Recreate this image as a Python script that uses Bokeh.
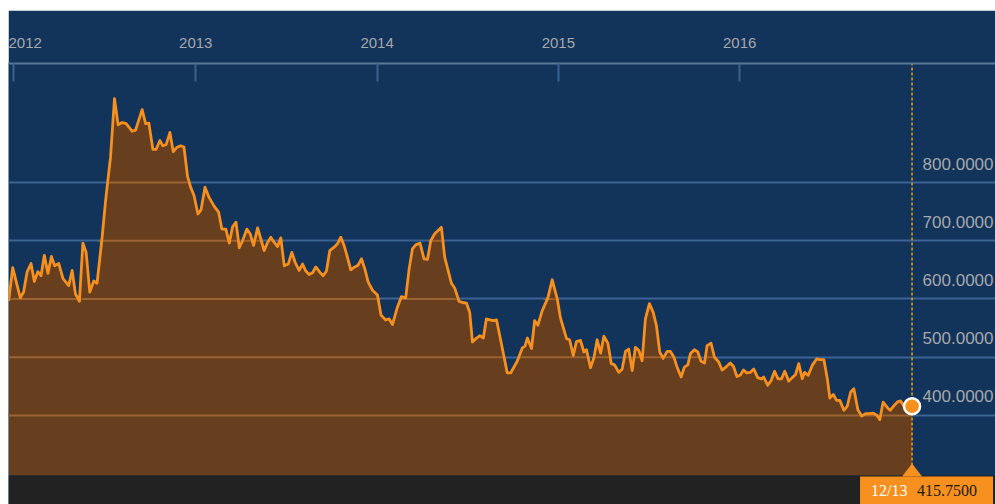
import numpy as np
import pandas as pd
from bokeh.plotting import figure
from bokeh.models import Range1d, FixedTicker, DatetimeTickFormatter, Spacer, Grid
from bokeh.layouts import column, row
from bokeh.embed import file_html
from bokeh.resources import INLINE
from bokeh.core.properties import value

# ---- data (decimal year, price) ----
t_years = [
    2011.971, 2011.993, 2012.035, 2012.053, 2012.072, 2012.094, 2012.112, 2012.131, 2012.149, 2012.167,
    2012.187, 2012.206, 2012.224, 2012.246, 2012.270, 2012.301, 2012.320, 2012.338, 2012.360, 2012.379,
    2012.397, 2012.417, 2012.439, 2012.457, 2012.485, 2012.504, 2012.531, 2012.553, 2012.573, 2012.595,
    2012.617, 2012.650, 2012.669, 2012.705, 2012.724, 2012.742, 2012.764, 2012.782, 2012.803, 2012.819,
    2012.837, 2012.858, 2012.876, 2012.895, 2012.917, 2012.935, 2012.955, 2012.972, 2012.990, 2013.012,
    2013.029, 2013.051, 2013.074, 2013.102, 2013.126, 2013.144, 2013.166, 2013.185, 2013.203, 2013.222,
    2013.240, 2013.258, 2013.282, 2013.300, 2013.319, 2013.341, 2013.359, 2013.377, 2013.396, 2013.414,
    2013.433, 2013.451, 2013.469, 2013.488, 2013.510, 2013.530, 2013.548, 2013.570, 2013.589, 2013.607,
    2013.625, 2013.644, 2013.662, 2013.684, 2013.703, 2013.721, 2013.739, 2013.763, 2013.782, 2013.800,
    2013.818, 2013.837, 2013.855, 2013.877, 2013.895, 2013.914, 2013.932, 2013.951, 2013.975, 2014.002,
    2014.022, 2014.048, 2014.066, 2014.085, 2014.112, 2014.134, 2014.158, 2014.177, 2014.195, 2014.213,
    2014.237, 2014.259, 2014.278, 2014.296, 2014.318, 2014.355, 2014.373, 2014.391, 2014.410, 2014.428,
    2014.452, 2014.471, 2014.493, 2014.511, 2014.526, 2014.549, 2014.567, 2014.586, 2014.603, 2014.623,
    2014.641, 2014.659, 2014.691, 2014.718, 2014.737, 2014.774, 2014.801, 2014.816, 2014.829, 2014.852,
    2014.869, 2014.887, 2014.911, 2014.942, 2014.966, 2014.994, 2015.011, 2015.045, 2015.062, 2015.082,
    2015.100, 2015.122, 2015.141, 2015.155, 2015.177, 2015.196, 2015.214, 2015.233, 2015.251, 2015.273,
    2015.292, 2015.310, 2015.333, 2015.352, 2015.370, 2015.388, 2015.407, 2015.425, 2015.443, 2015.462,
    2015.480, 2015.502, 2015.523, 2015.541, 2015.559, 2015.578, 2015.600, 2015.618, 2015.636, 2015.655,
    2015.677, 2015.695, 2015.714, 2015.728, 2015.750, 2015.769, 2015.787, 2015.806, 2015.820, 2015.842,
    2015.861, 2015.884, 2015.903, 2015.927, 2015.948, 2015.966, 2015.985, 2016.003, 2016.021, 2016.040,
    2016.058, 2016.077, 2016.099, 2016.118, 2016.132, 2016.154, 2016.173, 2016.192, 2016.211, 2016.230,
    2016.248, 2016.270, 2016.289, 2016.307, 2016.325, 2016.344, 2016.357, 2016.377, 2016.399, 2016.423,
    2016.441, 2016.463, 2016.482, 2016.496, 2016.515, 2016.533, 2016.551, 2016.573, 2016.592, 2016.610,
    2016.628, 2016.650, 2016.671, 2016.692, 2016.716, 2016.735, 2016.753, 2016.771, 2016.789, 2016.814,
    2016.828, 2016.849, 2016.871, 2016.885, 2016.904,
]
prices = [
    597, 654, 602, 612, 646, 661, 630, 647, 640, 675,
    644, 673, 657, 661, 635, 623, 649, 609, 596, 696,
    680, 612, 631, 627, 706, 769, 843, 944, 899, 903,
    901, 888, 890, 925, 901, 902, 857, 857, 872, 863,
    865, 886, 853, 860, 863, 861, 810, 792, 778, 746,
    753, 792, 774, 759, 749, 720, 720, 696, 724, 732,
    688, 700, 720, 712, 692, 722, 703, 683, 697, 706,
    697, 690, 705, 657, 660, 680, 663, 649, 660, 648,
    642, 645, 655, 646, 640, 648, 683, 689, 695, 706,
    692, 671, 650, 655, 658, 669, 652, 629, 615, 607,
    572, 564, 566, 556, 586, 604, 602, 652, 686, 693,
    696, 669, 668, 700, 712, 723, 672, 650, 627, 619,
    596, 594, 593, 577, 526, 533, 537, 533, 566, 564,
    563, 564, 515, 473, 473, 494, 516, 519, 533, 515,
    563, 555, 580, 602, 633, 600, 568, 532, 530, 503,
    527, 529, 509, 513, 482, 499, 530, 507, 536, 524,
    489, 487, 474, 480, 510, 514, 477, 517, 512, 494,
    566, 592, 577, 554, 509, 498, 510, 510, 501, 483,
    466, 483, 487, 506, 513, 509, 493, 490, 520, 524,
    500, 492, 478, 484, 490, 484, 467, 469, 478, 473,
    474, 480, 465, 463, 466, 452, 460, 476, 463, 463,
    476, 459, 465, 470, 489, 463, 474, 469, 486, 497,
    496, 496, 463, 430, 436, 426, 426, 409, 416, 440,
    446, 410, 399, 403, 403, 404, 401, 393, 423, 413,
    409, 417, 424, 425, 416,
]
last_date = "2016-12-13"
last_label = "12/13"
last_price = 415.75

y_ticks = [400, 500, 600, 700, 800]
year_ticks = ["2012-01-01", "2013-01-01", "2014-01-01", "2015-01-01", "2016-01-01"]

# ---- styling / layout constants ----
NAVY = "#12335a"
BROWN = "#673e1e"
ORANGE = "#f7901e"
GRID_BLUE = "#3d6394"
GRID_BROWN = "#9a6331"
DARK = "#222222"
DASH = "#e6a11c"
LABEL = "#a6a8ab"

W, H = 987, 494
TOP_PANEL = 53
FRAME_H = H - TOP_PANEL

x_start = pd.Timestamp("2011-12-21")
x_end = pd.Timestamp("2017-05-30")
y_min, y_max = 247.2, 1004.3
floor_value = 297.0


def dec_to_ts(t):
    y = int(np.floor(t))
    a = pd.Timestamp(f"{y}-01-01")
    b = pd.Timestamp(f"{y + 1}-01-01")
    return a + (b - a) * (t - y)


dates = [dec_to_ts(t) for t in t_years] + [pd.Timestamp(last_date)]
vals = np.array(prices + [last_price], dtype=float)
last_ts = pd.Timestamp(last_date)

ms_per_px = (x_end - x_start).total_seconds() * 1000.0 / W
units_per_px = (y_max - y_min) / FRAME_H


def shift_ms(ts, px):
    return ts + pd.Timedelta(milliseconds=px * ms_per_px)


p = figure(
    width=W, height=H,
    x_axis_type="datetime", x_axis_location="above", y_axis_location=None,
    x_range=Range1d(x_start, x_end), y_range=Range1d(y_min, y_max),
    toolbar_location=None, output_backend="svg",
    min_border_left=0, min_border_right=0, min_border_bottom=0, min_border_top=TOP_PANEL,
    background_fill_color=NAVY, border_fill_color=NAVY, outline_line_color=None,
)
for g in p.xgrid:
    g.visible = False
for g in p.ygrid:
    g.visible = False

grid = Grid(dimension=1, ticker=FixedTicker(ticks=y_ticks),
            grid_line_color=GRID_BLUE, grid_line_width=2)
p.add_layout(grid)

ax = p.xaxis[0]
ax.ticker = FixedTicker(ticks=[pd.Timestamp(d).value / 1e6 for d in year_ticks])
ax.formatter = DatetimeTickFormatter(years="%Y", months="%Y", days="%Y", hours="%Y",
                                     minutes="%Y", seconds="%Y", milliseconds="%Y",
                                     microseconds="%Y", minsec="%Y", hourmin="%Y")
ax.axis_line_color = "#5a7898"
ax.axis_line_width = 2
ax.major_tick_line_color = "#3b618f"
ax.major_tick_line_width = 2
ax.major_tick_in = 18
ax.major_tick_out = 0
ax.minor_tick_line_color = None
ax.major_label_text_color = LABEL
ax.major_label_text_font = "Liberation Sans"
ax.major_label_text_font_size = "15px"
ax.major_label_standoff = 16

# area
p.varea(x=dates, y1=floor_value, y2=vals, fill_color=BROWN, fill_alpha=1)

# gridline pieces over the area
d = 1.0 * units_per_px
for L in y_ticks:
    p.varea(x=dates, y1=L - d, y2=np.clip(vals, L - d, L + d), fill_color=GRID_BROWN)

# bottom dark band
p.quad(left=[x_start], right=[x_end], bottom=[y_min], top=[floor_value],
       fill_color=DARK, line_color=None)

# price line
p.line(x=dates, y=vals, line_color=ORANGE, line_width=2.8, line_join="round")

# vertical dashed cursor
p.segment(x0=[last_ts], y0=[floor_value], x1=[last_ts], y1=[y_max],
          line_color=DASH, line_width=1.5, line_dash="3 2")

# end marker
p.scatter(x=[last_ts], y=[last_price], size=16, fill_color=ORANGE,
          line_color="white", line_width=2.5)

# y labels (inside plot, right side)
p.text(x=[x_end] * len(y_ticks), y=y_ticks, text=[f"{v:.4f}" for v in y_ticks],
       x_offset=-2, y_offset=-19, text_align="right", text_baseline="middle",
       text_font=value("Liberation Sans"), text_font_size="17px", text_color=LABEL)

# last value callout
box_left = shift_ms(last_ts, -52)
box_right = shift_ms(last_ts, 81)
box_top = floor_value - 1 * units_per_px
p.quad(left=[box_left], right=[box_right], bottom=[y_min], top=[box_top],
       fill_color=ORANGE, line_color=None)
p.patch(x=[shift_ms(last_ts, -10), last_ts, shift_ms(last_ts, 10)],
        y=[box_top, floor_value + 12 * units_per_px, box_top],
        fill_color=ORANGE, line_color=None)
text_y = y_min + 14 * units_per_px
p.text(x=[box_left, box_left], y=[text_y, text_y], text=[last_label, f"{last_price:.4f}"],
       x_offset=[11, 57], y_offset=0,
       text_align="left", text_baseline="middle",
       text_font=value("Liberation Serif"), text_font_size="16px",
       text_color=["white", "#1a1a1a"])

layout = column(Spacer(width=W + 8, height=10), row(Spacer(width=8, height=H), p))
open("out.html", "w").write(file_html(layout, INLINE))
